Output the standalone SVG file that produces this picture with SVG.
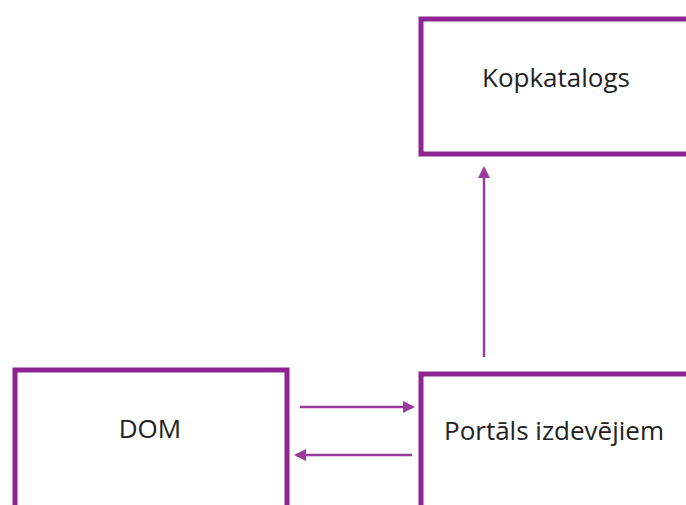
<svg xmlns="http://www.w3.org/2000/svg" width="686" height="505" viewBox="0 0 686 505">
<defs>
<style>
.box{fill:#fff;stroke:#8e2491;stroke-width:5}
.lbl{font-family:"Open Sans","Liberation Sans",sans-serif;font-size:26px;fill:#222}
.conn{stroke:#9b3a9d;stroke-width:2.5;fill:none}
</style>
<marker id="ah" markerWidth="12" markerHeight="12" refX="10" refY="6" orient="auto" markerUnits="userSpaceOnUse">
<path d="M0,0 L12,6 L0,12 z" fill="#9b3a9d"/>
</marker>
</defs>
<rect width="686" height="505" fill="#fff"/>
<g id="kopkatalogs">
<rect class="box" x="421" y="19" width="280" height="135"/>
<text class="lbl" x="556" y="87" text-anchor="middle">Kopkatalogs</text>
</g>
<g id="dom">
<rect class="box" x="15" y="370" width="272" height="150"/>
<text class="lbl" x="150" y="438" text-anchor="middle">DOM</text>
</g>
<g id="portals">
<rect class="box" x="421" y="374" width="280" height="150"/>
<text class="lbl" x="444" y="440">Portāls izdevējiem</text>
</g>
<g id="connectors">
<line class="conn" x1="484" y1="357" x2="484" y2="168" marker-end="url(#ah)"/>
<line class="conn" x1="300" y1="407" x2="413" y2="407" marker-end="url(#ah)"/>
<line class="conn" x1="412" y1="455" x2="296" y2="455" marker-end="url(#ah)"/>
</g>
</svg>
